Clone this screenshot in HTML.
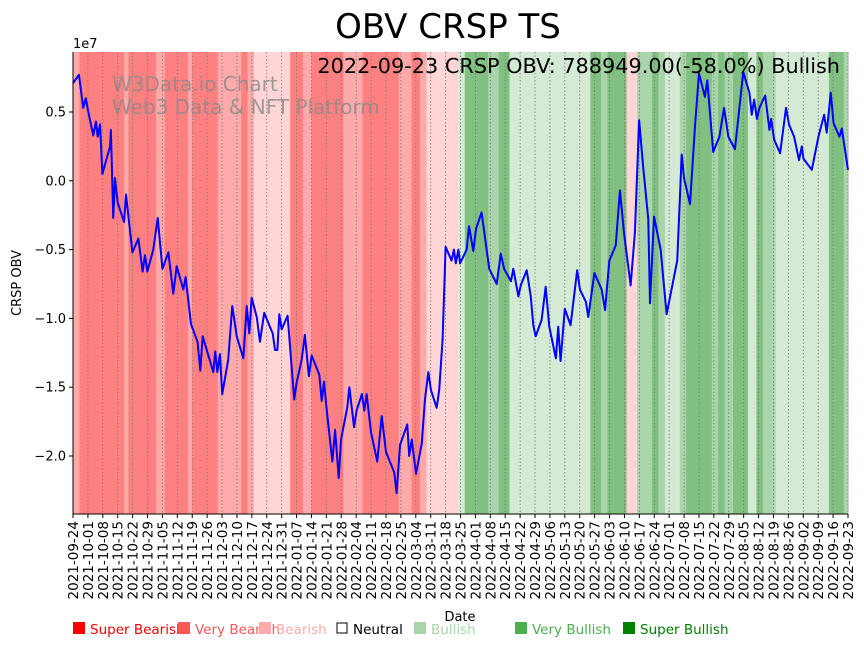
<!DOCTYPE html>
<html><head><meta charset="utf-8"><style>
body{margin:0;background:#fff;width:864px;height:646px;overflow:hidden}
svg{font-family:"DejaVu Sans","Liberation Sans",sans-serif}
</style></head><body>
<svg id="chart" width="864" height="646" xmlns="http://www.w3.org/2000/svg">
<g id="bands"></g>
<g id="grid"></g>
<text x="112" y="91" font-size="20" fill="#888" fill-opacity="0.8">W3Data.io Chart</text>
<text x="112" y="114" font-size="20" fill="#888" fill-opacity="0.8">Web3 Data &amp; NFT Platform</text>
<g id="line"></g>
<g id="axes"></g>
<text x="448" y="38" font-size="34" text-anchor="middle">OBV CRSP TS</text>
<text x="840" y="73" font-size="20.8" text-anchor="end">2022-09-23 CRSP OBV: 788949.00(-58.0%) Bullish</text>
<text x="73" y="48" font-size="13">1e7</text>
<text transform="translate(21,283) rotate(-90)" font-size="13" text-anchor="middle">CRSP OBV</text>
<text x="460" y="621" font-size="13" text-anchor="middle">Date</text>
<g id="legend" font-size="13.5"></g>
</svg>
<script>
// OBV values in units of 1e7, by day offset from 2021-09-24
const days=[0,2.8,4.8,6,7.2,9.5,10.8,11.6,12.7,13.8,17.4,17.8,18.9,19.7,21,24,24.9,27.9,30.7,32.7,33.8,34.9,37.7,39.8,42,44.8,47.1,48.7,51.8,52.9,55.4,58.5,59.8,60.9,65.9,66.8,67.8,69,70.1,72.9,74.8,76.9,80,81.6,82.8,83.9,86.3,87.8,89.8,93.8,94.9,96,96.9,98,100.8,103.9,105,107.4,108.9,110.8,112.1,115.7,116.8,117.9,119.2,121.8,123.1,124.8,125.9,128.8,129.8,132,133.2,135.7,136.8,137.9,140,142.9,145,147,150.9,152,153.6,157,157.9,159.1,161.1,163.8,165.3,166.9,168.1,170.8,172,173.6,175,177.8,178.9,179.8,181,181.8,184.9,186,188,189.3,191.9,195.5,199,200.9,202.5,205.7,206.8,209.2,210.3,213.1,215,216.2,217.3,220.1,222,223.7,226.8,227.9,229,231,233.7,236.8,238.1,240.9,242,244.9,248.3,249.9,251.9,254.9,256.9,258.8,261.9,263.9,265.9,267.8,270.2,271,272.9,276,278.8,283.8,285.9,287,289.8,292.2,294,296.8,297.9,300.7,303.6,305.8,307.8,310.9,314.8,317.7,318.8,319.9,321.2,322.4,325.1,327.1,327.9,329.3,332.1,334.9,336.3,338.7,341,342.3,343.1,347,350.1,352.8,354,355.9,357.2,360,361.1,364];
const obv=[0.71,0.77,0.53,0.60,0.50,0.33,0.43,0.32,0.41,0.05,0.25,0.37,-0.27,0.02,-0.16,-0.30,-0.10,-0.52,-0.42,-0.66,-0.54,-0.66,-0.50,-0.27,-0.64,-0.52,-0.82,-0.62,-0.79,-0.70,-1.04,-1.17,-1.38,-1.13,-1.39,-1.24,-1.39,-1.26,-1.55,-1.30,-0.91,-1.13,-1.29,-0.91,-1.11,-0.85,-0.99,-1.17,-0.96,-1.11,-1.23,-1.23,-0.97,-1.08,-0.98,-1.59,-1.47,-1.30,-1.12,-1.42,-1.27,-1.41,-1.60,-1.46,-1.67,-2.04,-1.81,-2.16,-1.88,-1.65,-1.50,-1.79,-1.67,-1.55,-1.67,-1.55,-1.83,-2.04,-1.71,-1.97,-2.12,-2.27,-1.92,-1.77,-2.00,-1.88,-2.13,-1.91,-1.59,-1.39,-1.52,-1.65,-1.52,-1.15,-0.48,-0.58,-0.50,-0.60,-0.50,-0.60,-0.50,-0.33,-0.51,-0.35,-0.23,-0.64,-0.75,-0.53,-0.64,-0.73,-0.64,-0.84,-0.76,-0.65,-0.84,-1.05,-1.13,-1.01,-0.77,-1.06,-1.29,-1.06,-1.31,-0.93,-1.05,-0.65,-0.79,-0.88,-0.99,-0.67,-0.79,-0.94,-0.58,-0.47,-0.07,-0.38,-0.76,-0.38,0.44,0.10,-0.28,-0.89,-0.26,-0.50,-0.97,-0.58,0.19,0.02,-0.17,0.41,0.78,0.61,0.73,0.21,0.32,0.53,0.32,0.23,0.79,0.64,0.48,0.59,0.45,0.53,0.62,0.37,0.45,0.30,0.20,0.53,0.41,0.32,0.15,0.25,0.16,0.08,0.32,0.48,0.35,0.64,0.42,0.32,0.38,0.0789];
// sentiment bands: start day, end day, level (-3..3)
const bandStart=[0,3,24,26,39,43,54,56,68,74,79,82,85,102,108,112,127,136,153,159,163,166,181,184,195,200,205,243,248,251,260,265,272,275,278,285,288,300,303,306,310,317,321,324,330,355,362];
const bandEnd=[3,24,26,39,43,54,56,68,74,79,82,85,102,108,112,127,136,153,159,163,166,181,184,195,200,205,243,248,251,260,265,272,275,278,285,288,300,303,306,310,317,321,324,330,355,362,364];
const bandLevel=[-1,-2,-1,-2,-1,-2,-1,-2,-1,-1,-2,-1,0.5,-2,-1,-2,-1,-2,-1,-2,-1,0.5,1,3,2,3,1,3,2,3,0.5,2,3,2,1,2,3,2,3,2,3,1,3,2,1,3,2];
const yTicks=[0.5,0,-0.5,-1.0,-1.5,-2.0];
const yTickLabels=["0.5","0.0","\u22120.5","\u22121.0","\u22121.5","\u22122.0"];
const legendLabels=["Super Bearish","Very Bearish","Bearish","Neutral","Bullish","Very Bullish","Super Bullish"];
const legendColors=["#ff0000","#ff5555","#ffaaaa","#000000","#aad4aa","#4caf50","#008000"];

const X0=73,X1=848,Y0=52,Y1=514,D=364;
const xs=d=>X0+d*(X1-X0)/D;
const ys=v=>180.8-v*137.6;
const NS="http://www.w3.org/2000/svg";
function mk(tag,attrs,parent){const e=document.createElementNS(NS,tag);for(const k in attrs)e.setAttribute(k,attrs[k]);parent.appendChild(e);return e;}
const colorFor={"-2":"#ff8080","-1":"#ffaaaa","0.5":"#ffd5d5","1":"#d5ead5","2":"#aad4aa","3":"#80c080"};
const bands=document.getElementById('bands');
for(let i=0;i<bandStart.length;i++){
  const r=mk('rect',{x:xs(bandStart[i]),y:Y0,width:xs(bandEnd[i])-xs(bandStart[i])+0.5,height:Y1-Y0,fill:colorFor[String(bandLevel[i])]},bands);
  
  
}
const grid=document.getElementById('grid'),axes=document.getElementById('axes');
const start=new Date(Date.UTC(2021,8,24));
for(let d=0;d<=D;d+=7){
  const x=xs(d);
  const g=mk('line',{x1:x,x2:x,y1:Y0,y2:Y1,stroke:'#777','stroke-width':0.8,'stroke-dasharray':'1.5,2'},grid);
  
  
  mk('line',{x1:x,x2:x,y1:Y1,y2:Y1+4,stroke:'#000'},axes);
  const dt=new Date(start.getTime()+d*86400000);
  const t=mk('text',{transform:`translate(${x+5},${Y1+7}) rotate(-90)`,'font-size':13.5,'text-anchor':'end'},axes);
  t.textContent=dt.toISOString().slice(0,10);
  
  
}
yTicks.forEach((v,i)=>{
  const y=ys(v);
  mk('line',{x1:X0-4,x2:X0,y1:y,y2:y,stroke:'#000'},axes);
  const t=mk('text',{x:X0-7,y:y+4.5,'font-size':13,'text-anchor':'end'},axes);
  t.textContent=yTickLabels[i];
  
  
});
mk('line',{x1:X0,x2:X0,y1:Y0,y2:Y1,stroke:'#000'},axes);
mk('line',{x1:X0,x2:X1,y1:Y1,y2:Y1,stroke:'#000'},axes);
const pl=mk('polyline',{points:days.map((d,i)=>xs(d)+','+ys(obv[i])).join(' '),fill:'none',stroke:'#0000ff','stroke-width':2,'stroke-linejoin':'round'},document.getElementById('line'));


const lx=[73,178,259,336,414,515,623];
const lg=document.getElementById('legend');
legendLabels.forEach((l,i)=>{
  const g=mk('g',{},lg);
  
  
  if(i==3) mk('rect',{x:lx[i]+1,y:623,width:10,height:10,fill:'none',stroke:'#000'},g);
  else mk('rect',{x:lx[i],y:622,width:12,height:12,fill:legendColors[i]},g);
  const t=mk('text',{x:lx[i]+17,y:634,fill:legendColors[i]},g);
  t.textContent=l;
});
</script>
</body></html>
